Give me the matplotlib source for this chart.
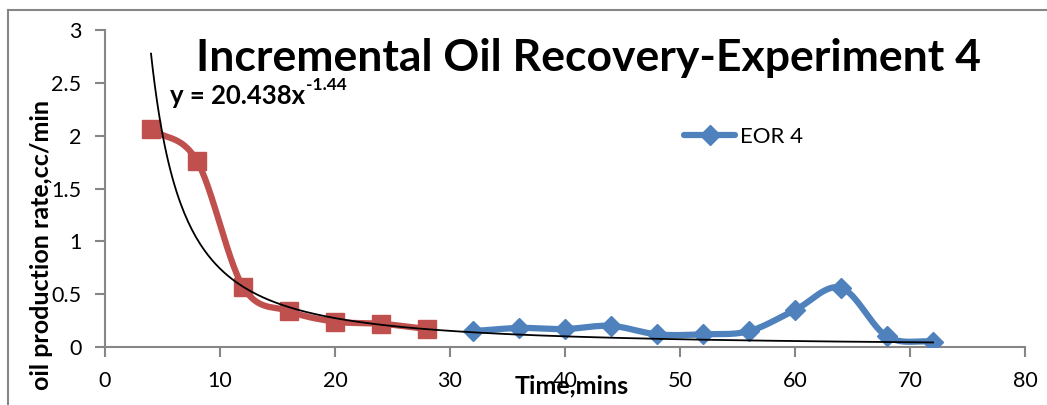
import numpy as np
import matplotlib
matplotlib.use("Agg")
import matplotlib.pyplot as plt
from matplotlib.lines import Line2D

# data
red_x = [4, 8, 12, 16, 20, 24, 28]
red_y = [2.06, 1.76, 0.57, 0.34, 0.24, 0.22, 0.17]
eor_x = [32, 36, 40, 44, 48, 52, 56, 60, 64, 68, 72]
eor_y = [0.15, 0.18, 0.17, 0.20, 0.12, 0.12, 0.15, 0.35, 0.56, 0.10, 0.05]
fit_a = 20.438
fit_b = -1.44
fit_range = (4, 72)

plt.rcParams['font.family'] = ['Lato', 'DejaVu Sans']


def smooth(xs, ys, n=30):
    # excel-like smoothed line (catmull-rom through the points)
    xs = np.asarray(xs, float)
    ys = np.asarray(ys, float)
    px = np.concatenate([[2 * xs[0] - xs[1]], xs, [2 * xs[-1] - xs[-2]]])
    py = np.concatenate([[2 * ys[0] - ys[1]], ys, [2 * ys[-1] - ys[-2]]])
    out_x, out_y = [], []
    t = np.linspace(0, 1, n)
    for i in range(1, len(px) - 2):
        for p, out in ((px, out_x), (py, out_y)):
            p0, p1, p2, p3 = p[i - 1], p[i], p[i + 1], p[i + 2]
            c = 0.5 * ((2 * p1) + (-p0 + p2) * t + (2 * p0 - 5 * p1 + 4 * p2 - p3) * t ** 2
                       + (-p0 + 3 * p1 - 3 * p2 + p3) * t ** 3)
            out.extend(c)
    return np.array(out_x), np.array(out_y)


fig = plt.figure(figsize=(10.47, 4.05), dpi=100)
ax = fig.add_axes([105 / 1047, 1 - 347 / 405, 920 / 1047, 317 / 405])

red = '#c0504d'
blue = '#4f81bd'

sx, sy = smooth(red_x, red_y)
ax.plot(sx, sy, color=red, lw=4.5, solid_capstyle='round', zorder=2)
ax.plot(red_x, red_y, ls='none', marker='s', ms=13, color=red, zorder=3)

bx, by = smooth(eor_x, eor_y)
ax.plot(bx, by, color=blue, lw=4.5, solid_capstyle='round', zorder=2)
ax.plot(eor_x, eor_y, ls='none', marker='D', ms=10, color=blue, zorder=3)

fx = np.linspace(fit_range[0], fit_range[1], 400)
ax.plot(fx, fit_a * fx ** fit_b, color='black', lw=1.3, zorder=4)

ax.set_xlim(0, 80)
ax.set_ylim(0, 3)
ax.set_xticks(range(0, 81, 10))
ax.set_yticks([0, 0.5, 1, 1.5, 2, 2.5, 3])
ax.set_yticklabels(['0', '0.5', '1', '1.5', '2', '2.5', '3'])
for s in ['top', 'right']:
    ax.spines[s].set_visible(False)
for s in ['left', 'bottom']:
    ax.spines[s].set_color('#868686')
    ax.spines[s].set_linewidth(1.5)
ax.tick_params(axis='both', colors='#868686', labelcolor='black', labelsize=15.5,
               length=7, width=1.5)
ax.tick_params(axis='x', pad=10)
ax.tick_params(axis='y', pad=10)

fig.text(588 / 1047, 1 - 58 / 405, 'Incremental Oil Recovery-Experiment 4',
         fontsize=32, fontweight='bold', ha='center', va='center')

# trendline equation with a superscript exponent
eq = fig.text(170 / 1047, 1 - 96 / 405, 'y = 20.438x', fontsize=18.5,
              fontweight='bold', ha='left', va='center')
fig.canvas.draw()
bb = eq.get_window_extent()
fig.text(bb.x1 / 1047 + 0.001, 1 - 85 / 405, '-1.44', fontsize=12.5,
         fontweight='bold', ha='left', va='center')

fig.text(42 / 1047, 1 - 245 / 405, 'oil production rate,cc/min', fontsize=18,
         fontweight='bold', rotation=90, ha='center', va='center')
fig.text(572 / 1047, 1 - 386 / 405, 'Time,mins', fontsize=18,
         fontweight='bold', ha='center', va='center')

handle = Line2D([], [], color=blue, lw=4.5, marker='D', ms=10, solid_capstyle='round')
fig.legend([handle], ['EOR 4'], loc='center left', bbox_to_anchor=(684 / 1047, 1 - 137 / 405),
           frameon=False, fontsize=16, handlelength=2.3, handletextpad=0.2,
           borderaxespad=0, borderpad=0)

# chart border (only top/left edges are visible in the crop)
fig.add_artist(Line2D([8 / 1047, 8 / 1047], [0, 1 - 10 / 405], color='#868686', lw=1.5))
fig.add_artist(Line2D([8 / 1047, 1], [1 - 10 / 405, 1 - 10 / 405], color='#868686', lw=1.5))

fig.savefig('out.png', dpi=100)
